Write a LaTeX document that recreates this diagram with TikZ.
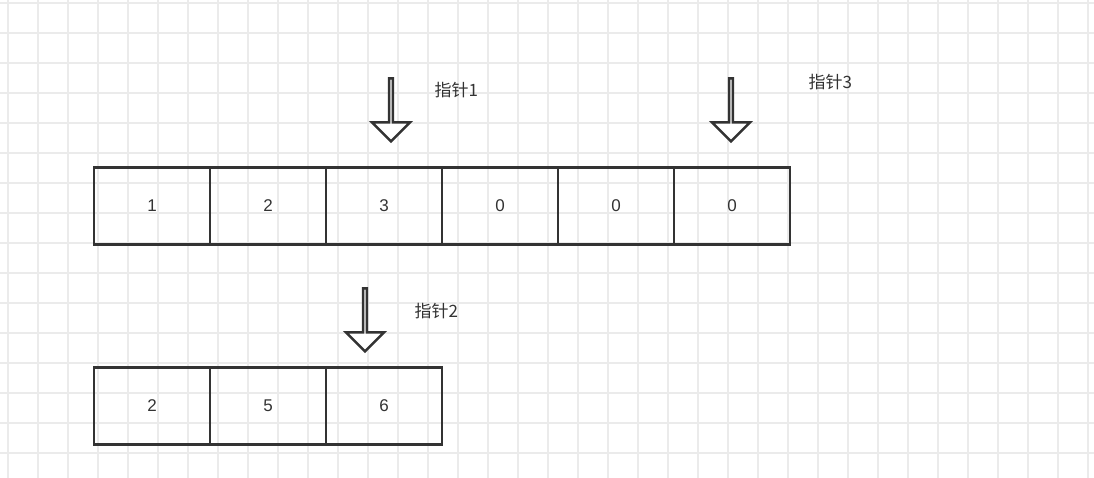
\documentclass[tikz,border=0pt]{standalone}
\usepackage{fontspec}
\setmainfont{Liberation Sans}
\newfontfamily\cjk{Noto Sans CJK SC}
\usetikzlibrary{positioning, shapes.arrows}
\definecolor{ink}{HTML}{333333}
\definecolor{gridgray}{HTML}{EBEBEB}
\tikzset{
  x=1pt, y=-1pt,
  node distance=0pt,
  cell/.style={rectangle, draw=ink, line width=2.5pt, minimum width=116pt, minimum height=77pt, outer sep=0pt, inner sep=0pt, font=\fontsize{17}{17}\selectfont, text=ink}, % one array slot
  pointer/.style={single arrow, draw=ink, line width=2.5pt, fill=white, rotate=-90, minimum height=63pt, minimum width=38pt, single arrow head extend=12pt, single arrow tip angle=90, inner sep=0pt, outer sep=0pt},
  tag/.style={font=\cjk\fontsize{17}{17}\selectfont, text=ink, anchor=west}
}
\begin{document}
\begin{tikzpicture}
  \useasboundingbox (0,0) rectangle (1094,478);
  % background grid
  \foreach \gx in {8,38,...,1094} \draw[gridgray, line width=1.2pt] (\gx,0) -- (\gx,478);
  \foreach \gy in {3,33,...,478} \draw[gridgray, line width=1.2pt] (0,\gy) -- (1094,\gy);

  % first array
  \node[cell] (a1) at (152,206) {1};
  \node[cell, right=of a1] (a2) {2};
  \node[cell, right=of a2] (a3) {3};
  \node[cell, right=of a3] (a4) {0};
  \node[cell, right=of a4] (a5) {0};
  \node[cell, right=of a5] (a6) {0};

  % second array
  \node[cell] (b1) at (152,406) {2};
  \node[cell, right=of b1] (b2) {5};
  \node[cell, right=of b2] (b3) {6};

  % pointers
  \node[pointer] (p1) at (391,109) {};
  \node[pointer] (p3) at (731,109) {};
  \node[pointer] (p2) at (365,319) {};
  \node[tag] (t1) at (431,90) {指针1};
  \node[tag] (t3) at (805,82) {指针3};
  \node[tag] (t2) at (411,311) {指针2};
\end{tikzpicture}
\end{document}
